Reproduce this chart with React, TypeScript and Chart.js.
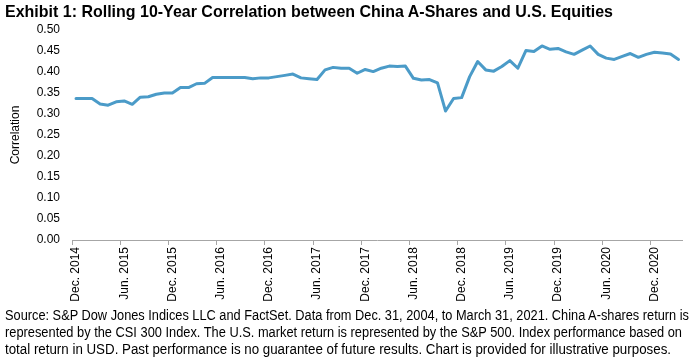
import React, { useEffect, useLayoutEffect, useRef } from 'react';
import { Chart, registerables } from 'chart.js';

Chart.register(...registerables);

const MONTH_NAMES = ['Jan.', 'Feb.', 'Mar.', 'Apr.', 'May', 'Jun.', 'Jul.', 'Aug.', 'Sep.', 'Oct.', 'Nov.', 'Dec.'];

// Monthly categories: Dec. 2014 .. Mar. 2021
const categories: string[] = [];
for (let y = 2014, m = 11; y < 2021 || (y === 2021 && m <= 2); m++) {
  if (m > 11) { m = 0; y++; if (y === 2021 && m > 2) break; }
  categories.push(`${MONTH_NAMES[m]} ${y}`);
}

const correlation = [
  0.337, 0.337, 0.337, 0.324, 0.321, 0.329, 0.331, 0.323, 0.340, 0.341, 0.347, 0.350, 0.350, 0.363, 0.363, 0.372, 0.373, 0.387, 0.387, 0.387, 0.387,
  0.387, 0.384, 0.386, 0.386, 0.389, 0.392, 0.395, 0.386, 0.384, 0.382, 0.405, 0.411, 0.409, 0.409, 0.397, 0.406, 0.401, 0.409, 0.414, 0.413,
  0.414, 0.385, 0.381, 0.382, 0.374, 0.307, 0.337, 0.339, 0.389, 0.425, 0.405, 0.402, 0.413, 0.427, 0.409, 0.451, 0.449, 0.462,
  0.454, 0.456, 0.448, 0.442, 0.452, 0.462, 0.442, 0.433, 0.430, 0.437, 0.444, 0.435, 0.442, 0.447, 0.445, 0.443, 0.430,
];

const TITLE = 'Exhibit 1: Rolling 10-Year Correlation between China A-Shares and U.S. Equities';
const FOOTER_LINES = [
  'Source: S&P Dow Jones Indices LLC and FactSet. Data from Dec. 31, 2004, to March 31, 2021. China A-shares return is',
  'represented by the CSI 300 Index. The U.S. market return is represented by the S&P 500. Index performance based on',
  'total return in USD. Past performance is no guarantee of future results. Chart is provided for illustrative purposes.',
];
const Y_AXIS_TITLE = 'Correlation';
const LABEL_EVERY = 6;

// target text widths (px) for the condensed title / footer lines
const TITLE_WIDTH = 608;
const FOOTER_WIDTHS = [684, 677, 666];

const NARROW = "'Liberation Sans Narrow', 'Arial Narrow', 'Liberation Sans', Arial, sans-serif";
const SANS = "'Liberation Sans', Arial, sans-serif";

function FitText({ text, width, style }: { text: string; width: number; style: React.CSSProperties }) {
  const ref = useRef<HTMLSpanElement | null>(null);
  useLayoutEffect(() => {
    const el = ref.current;
    if (!el) return;
    el.style.transform = 'none';
    const w = el.getBoundingClientRect().width;
    if (w > 0) el.style.transform = `scaleX(${width / w})`;
  }, [text, width]);
  return (
    <span
      ref={ref}
      style={{ display: 'inline-block', whiteSpace: 'nowrap', transformOrigin: '0 0', ...style }}
    >
      {text}
    </span>
  );
}

export default function App() {
  const canvasRef = useRef<HTMLCanvasElement | null>(null);

  useEffect(() => {
    const canvas = canvasRef.current;
    if (!canvas) return;
    const chart = new Chart(canvas, {
      type: 'line',
      data: {
        labels: categories,
        datasets: [
          {
            data: correlation,
            borderColor: '#4b9bc8',
            borderWidth: 3,
            pointRadius: 0,
            tension: 0,
            borderJoinStyle: 'round',
            borderCapStyle: 'round',
            fill: false,
          },
        ],
      },
      options: {
        animation: false,
        responsive: false,
        devicePixelRatio: 1,
        layout: { padding: { left: 0, top: 30, right: 11, bottom: 55 } },
        plugins: {
          legend: { display: false },
          tooltip: { enabled: false },
          title: { display: false },
        },
        scales: {
          x: {
            type: 'category',
            offset: true,
            afterFit: (s: any) => { s.height = 62; },
            border: { display: true, color: '#a6a6a6', width: 1 },
            grid: {
              display: true,
              offset: true,
              drawOnChartArea: false,
              drawTicks: true,
              tickLength: 5,
              color: (ctx: any) => (ctx.index % LABEL_EVERY === 0 ? '#a6a6a6' : 'rgba(0,0,0,0)'),
            },
            ticks: {
              autoSkip: false,
              maxRotation: 90,
              minRotation: 90,
              padding: 2,
              color: '#000',
              font: { family: SANS, size: 12 },
              callback: (_v: any, i: number) => (i % LABEL_EVERY === 0 ? categories[i] : ''),
            },
          },
          y: {
            min: 0,
            max: 0.5,
            afterFit: (s: any) => { s.width = 72; },
            border: { display: false },
            grid: { display: false, drawTicks: false },
            ticks: {
              stepSize: 0.05,
              padding: 12,
              color: '#000',
              font: { family: SANS, size: 12 },
              callback: (v: any) => Number(v).toFixed(2),
            },
            title: {
              display: true,
              text: Y_AXIS_TITLE,
              color: '#000',
              font: { family: SANS, size: 12 },
              padding: { top: 8, bottom: 0 },
            },
          },
        },
      },
    });
    return () => chart.destroy();
  }, []);

  return (
    <div style={{ position: 'fixed', left: 0, top: 0, width: 695, height: 357, background: '#fff', overflow: 'hidden' }}>
      <canvas ref={canvasRef} width={695} height={357} style={{ position: 'absolute', left: 0, top: 0, width: 695, height: 357 }} />
      <div style={{ position: 'absolute', left: 5, top: 2, lineHeight: '20px', color: '#000' }}>
        <FitText text={TITLE} width={TITLE_WIDTH} style={{ fontFamily: NARROW, fontWeight: 'bold', fontSize: 17 }} />
      </div>
      <div style={{ position: 'absolute', left: 5, top: 306, color: '#000' }}>
        {FOOTER_LINES.map((l, i) => (
          <div key={i} style={{ height: 17, lineHeight: '17px' }}>
            <FitText text={l} width={FOOTER_WIDTHS[i]} style={{ fontFamily: NARROW, fontSize: 14 }} />
          </div>
        ))}
      </div>
    </div>
  );
}
